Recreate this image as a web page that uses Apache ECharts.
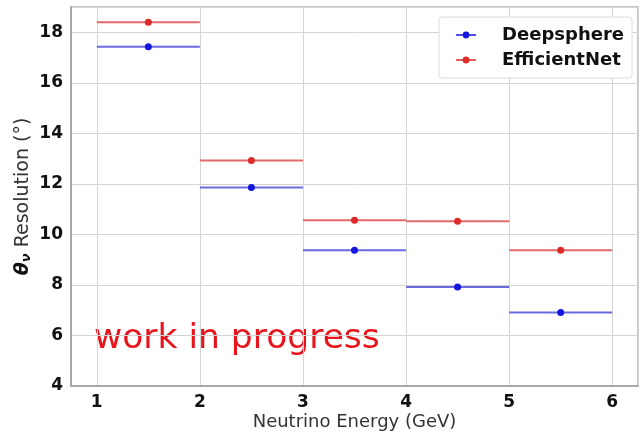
<!DOCTYPE html>
<html>
<head>
<meta charset="utf-8">
<script src="https://cdn.jsdelivr.net/npm/echarts@6/dist/echarts.min.js"></script>
<style>
  html, body { margin: 0; padding: 0; background: #fff; }
  #chart { width: 641px; height: 433px; }
</style>
</head>
<body>
<div id="chart"></div>
<script>
// energy bins (GeV)
const binLow = [1, 2, 3, 4, 5]
const binHigh = [2, 3, 4, 5, 6]
const binCenter = [1.5, 2.5, 3.5, 4.5, 5.5]
// resolution (deg)
const deepsphere = [17.43, 11.86, 9.37, 7.92, 6.91]
const efficientNet = [18.4, 12.92, 10.56, 10.52, 9.37]
const xTicks = [1, 2, 3, 4, 5, 6]

const font = 'DejaVu Sans'

function makeRows (vals) {
  return vals.map((v, i) => [binCenter[i], v, binLow[i], binHigh[i]])
}

function binSeries (name, vals, lineColor, dotColor) {
  return {
    name: name,
    type: 'custom',
    itemStyle: { color: dotColor },
    encode: { x: 0, y: 1 },
    data: makeRows(vals),
    renderItem: function (params, api) {
      let p0 = api.coord([api.value(2), api.value(1)])
      let p1 = api.coord([api.value(3), api.value(1)])
      let c = api.coord([api.value(0), api.value(1)])
      return {
        type: 'group',
        children: [
          {
            type: 'line',
            shape: { x1: p0[0], y1: p0[1], x2: p1[0], y2: p1[1] },
            style: { stroke: lineColor, lineWidth: 2 }
          },
          {
            type: 'circle',
            shape: { cx: c[0], cy: c[1], r: 3.5 },
            style: { fill: dotColor }
          }
        ]
      }
    }
  }
}

const legendIcon = 'path://M0,4.3 L20,4.3 L20,5.7 L0,5.7 Z M10,1.6 A3.4,3.4 0 1 1 9.99,1.6 Z'

let chart = echarts.init(document.getElementById('chart'))
chart.setOption({
  animation: false,
  grid: {
    left: 71, right: 3, top: 7, bottom: 47,
    outerBoundsMode: 'none',
    containLabel: false,
    show: true,
    borderColor: '#b4b4b4',
    borderWidth: 1.5
  },
  legend: {
    orient: 'vertical',
    right: 9,
    top: 17,
    padding: [9, 8, 9, 17],
    itemGap: 7,
    itemWidth: 20,
    itemHeight: 10,
    icon: legendIcon,
    backgroundColor: '#fff',
    borderColor: '#dcdcdc',
    borderWidth: 1,
    borderRadius: 3,
    textStyle: {
      fontFamily: font,
      fontWeight: 'bold',
      fontSize: 18,
      color: '#111',
      padding: [0, 0, 0, 21]
    },
    data: ['Deepsphere', 'EfficientNet']
  },
  graphic: [
    {
      type: 'text',
      left: 94,
      top: 322,
      style: {
        text: 'work in progress',
        fontFamily: font,
        fontSize: 34.5,
        fill: '#e8141c'
      }
    }
  ],
  xAxis: {
    type: 'value',
    min: 0.75,
    max: 6.25,
    name: 'Neutrino Energy (GeV)',
    nameLocation: 'middle',
    nameGap: 27,
    nameMoveOverlap: false,
    nameTextStyle: { fontFamily: font, fontSize: 18, color: '#333' },
    axisLine: { show: true, lineStyle: { color: '#a8a8a8', width: 2 } },
    axisTick: { show: false },
    axisLabel: {
      customValues: xTicks,
      margin: 8,
      fontFamily: font,
      fontWeight: 'bold',
      fontSize: 17,
      color: '#111'
    },
    splitLine: { show: true, lineStyle: { color: '#d4d4d4', width: 1 } }
  },
  yAxis: {
    type: 'value',
    min: 4,
    max: 19,
    interval: 2,
    name: '{t|θ}{s|ν}{r| Resolution (°)}',
    nameLocation: 'middle',
    nameGap: 38,
    nameMoveOverlap: false,
    nameTextStyle: {
      rich: {
        t: { fontFamily: font, fontSize: 19, fontWeight: 'bold', fontStyle: 'italic', color: '#111' },
        s: { fontFamily: font, fontSize: 13, fontWeight: 'bold', fontStyle: 'italic', color: '#111', padding: [7, 0, 0, 0] },
        r: { fontFamily: font, fontSize: 19, color: '#333' }
      }
    },
    axisLine: { show: true, lineStyle: { color: '#a8a8a8', width: 2 } },
    axisTick: { show: false },
    axisLabel: {
      showMaxLabel: false,
      margin: 8,
      fontFamily: font,
      fontWeight: 'bold',
      fontSize: 17,
      color: '#111'
    },
    splitLine: { show: true, lineStyle: { color: '#d4d4d4', width: 1 } }
  },
  series: [
    binSeries('Deepsphere', deepsphere, '#6a6ae0', '#1515e0'),
    binSeries('EfficientNet', efficientNet, '#e26a6a', '#dd2a2a')
  ]
})
</script>
</body>
</html>
